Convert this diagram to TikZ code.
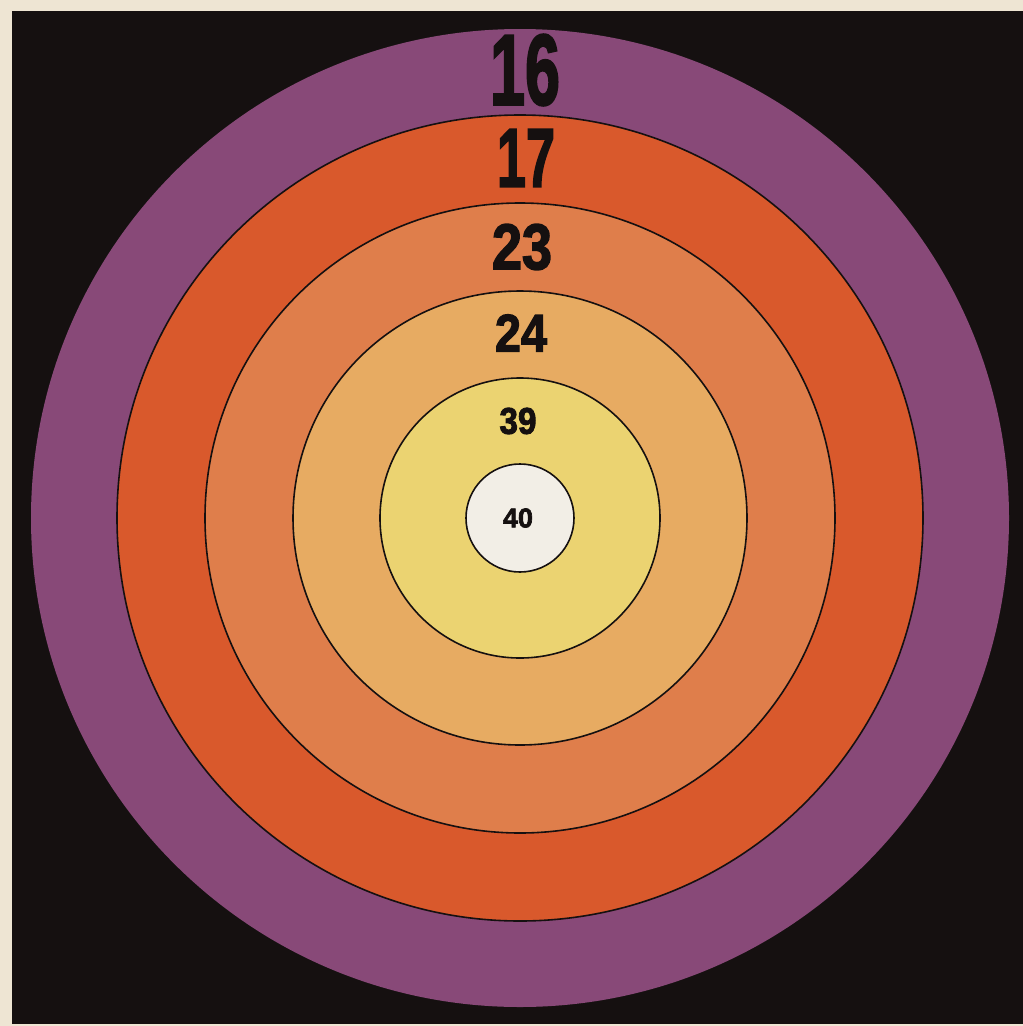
\documentclass[tikz,border=0pt]{standalone}
\usepackage{fontspec}
\usepackage{graphicx}
\setmainfont{Liberation Sans}
\newfontfamily\heavyfont[FakeBold=2.5]{Liberation Sans Bold}
\definecolor{cream}{HTML}{EEE5D3}
\definecolor{ringA}{HTML}{884978}
\definecolor{ringB}{HTML}{D9592C}
\definecolor{ringC}{HTML}{DF7E4B}
\definecolor{ringD}{HTML}{E7AB62}
\definecolor{ringE}{HTML}{EBD371}
\definecolor{ringF}{HTML}{F2EEE6}
\definecolor{ink}{HTML}{151010}
\tikzset{
  ring/.style={draw=ink, line width=1.6pt},
  lbl/.style={inner sep=0pt, outer sep=0pt, text=ink}
}
\newcommand{\numlbl}[3]{\resizebox{#1pt}{#2pt}{\heavyfont #3}}
\begin{document}
\begin{tikzpicture}[x=1pt,y=-1pt]
\fill[cream] (0,0) rectangle (1023,1026);
\useasboundingbox (0,0) rectangle (1023,1026);
\fill[ink] (12,11) rectangle (1023,1024);
\coordinate (c) at (520,518);
\fill[ringA] (c) circle[radius=489];
\filldraw[ring, fill=ringB] (c) circle[radius=403];
\filldraw[ring, fill=ringC] (c) circle[radius=315];
\filldraw[ring, fill=ringD] (c) circle[radius=227];
\filldraw[ring, fill=ringE] (c) circle[radius=140];
\filldraw[ring, fill=ringF] (c) circle[radius=54];
\node[lbl] (l16) at (525,70) {\numlbl{70}{70}{16}};
\node[lbl] (l17) at (526,158) {\numlbl{58}{57}{17}};
\node[lbl] (l23) at (522,247) {\numlbl{60}{45}{23}};
\node[lbl] (l24) at (521,333) {\numlbl{52}{37}{24}};
\node[lbl] (l39) at (518,421) {\numlbl{37}{26}{39}};
\node[lbl] (l40) at (518,518) {\numlbl{30}{19}{40}};
\end{tikzpicture}
\end{document}
